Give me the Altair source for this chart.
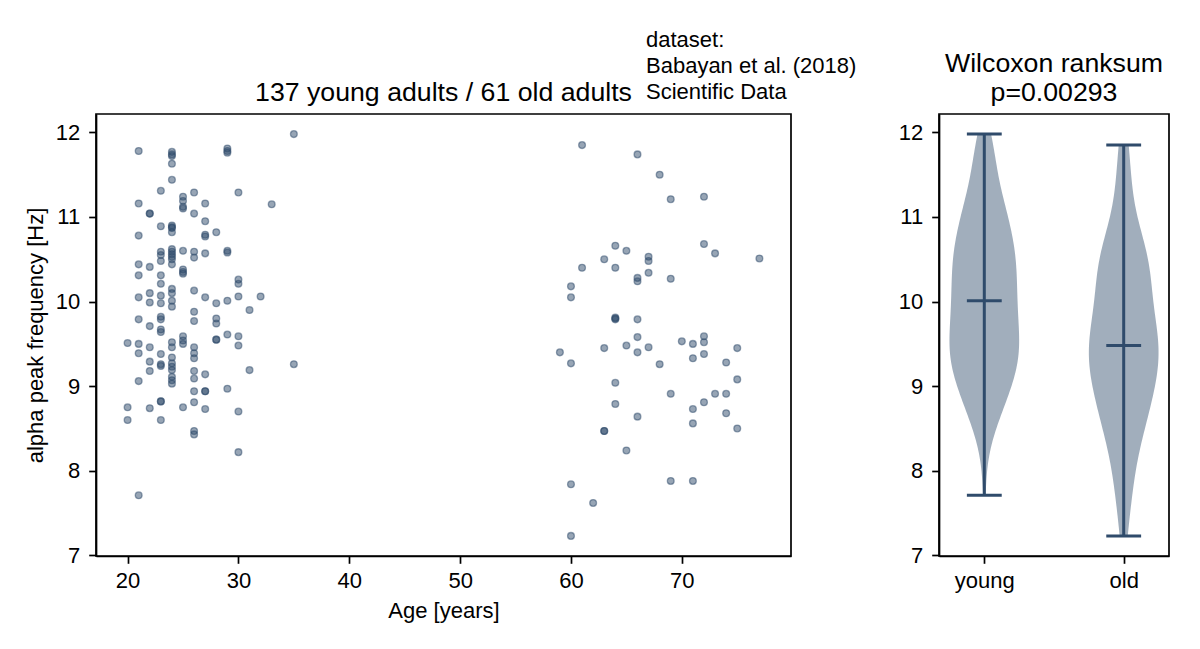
import altair as alt
import numpy as np
import pandas as pd

# ---- data ----
young_age = [35, 21, 24, 24, 24, 24, 24, 29, 29, 29, 23, 25, 25, 25, 25, 26, 27, 30, 33, 21,
             22, 22, 26, 27, 23, 24, 24, 24, 24, 27, 27, 28, 21, 23, 23, 24, 24, 24, 24, 24,
             25, 26, 26, 27, 29, 29, 21, 22, 23, 24, 25, 25, 25, 21, 23, 23, 30, 30, 24, 24,
             26, 21, 22, 23, 24, 24, 22, 23, 27, 28, 29, 30, 32, 31, 26, 21, 23, 23, 22, 26,
             28, 28, 23,
             23, 20, 21, 22, 21, 24, 24, 25, 25, 25, 26, 26, 26, 28, 28, 29, 30, 30, 23, 22,
             23, 23, 24, 24, 24, 24, 22, 24, 24, 24, 26, 26, 27, 31, 35, 21, 26, 27, 27, 29,
             23, 23, 20, 22, 25, 26, 27, 30, 20, 23, 26, 26, 30, 21]
young_freq = [11.98, 11.78, 11.77, 11.74, 11.72, 11.63, 11.44, 11.81, 11.78, 11.76, 11.31, 11.24,
              11.19, 11.12, 11.10, 11.29, 11.16, 11.29, 11.15, 11.16, 11.04, 11.04, 11.04, 10.95,
              10.89, 10.90, 10.87, 10.88, 10.82, 10.79, 10.77, 10.82, 10.78, 10.59, 10.55, 10.62,
              10.59, 10.56, 10.53, 10.50, 10.60, 10.59, 10.52, 10.57, 10.60, 10.58, 10.44, 10.41,
              10.48, 10.44, 10.38, 10.33, 10.35, 10.31, 10.31, 10.21, 10.26, 10.21, 10.15, 10.10,
              10.13, 10.05, 10.10, 10.07, 10.01, 9.94, 9.99, 9.98, 10.05, 9.98, 10.01, 10.06,
              10.06, 9.90, 9.88, 9.79, 9.82, 9.79, 9.71, 9.77, 9.80, 9.74, 9.67,
              9.64, 9.51, 9.50, 9.46, 9.39, 9.52, 9.46, 9.59, 9.54, 9.50, 9.46, 9.39, 9.33,
              9.55, 9.55, 9.61, 9.59, 9.48, 9.38, 9.29, 9.26, 9.24, 9.34, 9.27, 9.23, 9.19,
              9.18, 9.11, 9.07, 9.03, 9.18, 9.09, 9.14, 9.19, 9.26, 9.06, 8.94, 8.94, 8.94,
              8.97, 8.82, 8.82, 8.75, 8.74, 8.75, 8.81, 8.73, 8.70, 8.60, 8.60, 8.47, 8.43,
              8.22, 7.71]
old_age = [61, 66, 68, 69, 72, 72, 73, 77, 64, 65, 63, 61, 64, 67, 67, 67, 66, 66, 69, 60,
           60, 64, 64, 64, 66,
           59, 60, 63, 65, 66, 66, 67, 68, 70, 71, 72, 72, 72, 71, 75, 74, 75, 64, 69, 73,
           74, 72, 64, 71, 74, 66, 71, 75, 63, 63, 65, 69, 71, 60, 62, 60]
old_freq = [11.85, 11.74, 11.50, 11.21, 11.24, 10.68, 10.57, 10.51, 10.66, 10.60, 10.50, 10.40,
            10.40, 10.53, 10.48, 10.34, 10.28, 10.24, 10.27, 10.18, 10.05, 9.81, 9.79, 9.80,
            9.79,
            9.40, 9.27, 9.45, 9.48, 9.58, 9.40, 9.46, 9.26, 9.53, 9.50, 9.59, 9.52, 9.38,
            9.33, 9.45, 9.28, 9.08, 9.04, 8.91, 8.91, 8.91, 8.81, 8.79, 8.73, 8.68, 8.64,
            8.56, 8.50, 8.47, 8.47, 8.24, 7.88, 7.88, 7.84, 7.62, 7.23]

groups = ["young", "old"]
group_pos = [1, 2]
age_ticks = [20, 30, 40, 50, 60, 70]
freq_ticks = [7, 8, 9, 10, 11, 12]
title_left = "137 young adults / 61 old adults"
title_right = ["Wilcoxon ranksum", "p=0.00293"]
note_text = "dataset:\nBabayan et al. (2018)\nScientific Data"

COLOR = "#2f4b6b"
FONT = "Liberation Sans"
FS = 22
TFS = 26.7
LEFT_W, RIGHT_W, H = 695, 230, 442

df = pd.DataFrame({
    "age": young_age + old_age,
    "freq": young_freq + old_freq,
    "group": [groups[0]] * len(young_age) + [groups[1]] * len(old_age),
})
df["pos"] = df["group"].map(dict(zip(groups, group_pos)))


def lims(lo, hi, m=0.05):
    r = hi - lo
    return [lo - m * r, hi + m * r]


xdom = lims(float(df.age.min()), float(df.age.max()))
ydom = lims(float(df.freq.min()), float(df.freq.max()))
pdom = lims(group_pos[0] - 0.25, group_pos[-1] + 0.25)

yscale = alt.Scale(domain=ydom, nice=False, zero=False)
pscale = alt.Scale(domain=pdom, nice=False, zero=False)
label_expr = "[" + ",".join(f"'{g}'" for g in groups) + "][datum.value - 1]"


def Yf(field, title=None):
    return alt.Y(field, type="quantitative", scale=yscale,
                 axis=alt.Axis(values=freq_ticks, title=title))


def Xp(field):
    return alt.X(field, type="quantitative", scale=pscale,
                 axis=alt.Axis(values=group_pos, labelExpr=label_expr, title=None))


# ---- left: scatter ----
scatter = alt.Chart(df).mark_circle(
    size=46, fill=COLOR, fillOpacity=0.5, stroke=COLOR, strokeOpacity=0.5, strokeWidth=1.3
).encode(
    x=alt.X("age:Q", scale=alt.Scale(domain=xdom, nice=False, zero=False),
            axis=alt.Axis(values=age_ticks, title="Age [years]")),
    y=Yf("freq", "alpha peak frequency [Hz]"),
)

note = alt.Chart(pd.DataFrame({"t": [note_text]})).mark_text(
    align="left", baseline="alphabetic", lineBreak="\n", fontSize=FS, lineHeight=26,
    font=FONT, color="black", x=550, y=-67
).encode(text="t:N")

head = alt.Chart(pd.DataFrame({"t": [title_left]})).mark_text(
    align="center", baseline="bottom", fontSize=TFS, font=FONT, color="black",
    x=LEFT_W / 2, y=-7
).encode(text="t:N")

left = alt.layer(scatter, note, head).properties(width=LEFT_W, height=H)


# ---- right: violins ----
def violin(g):
    vals = df.loc[df.group == g, "freq"].to_numpy()
    bw = float(vals.std(ddof=1) * len(vals) ** -0.2)
    return alt.Chart(df).transform_filter(
        alt.datum.group == g
    ).transform_density(
        "freq", as_=["freq", "density"], groupby=["group", "pos"], bandwidth=bw, steps=200
    ).transform_joinaggregate(
        dmax="max(density)", groupby=["group"]
    ).transform_calculate(
        xl="datum.pos - 0.25 * datum.density / datum.dmax",
        xr="datum.pos + 0.25 * datum.density / datum.dmax",
    ).mark_area(orient="horizontal", color=COLOR, opacity=0.45).encode(
        y=Yf("freq"), x=Xp("xl"), x2="xr:Q"
    )


stats = alt.Chart(df).transform_aggregate(
    vmin="min(freq)", vmax="max(freq)", vmed="median(freq)", groupby=["group", "pos"]
).transform_calculate(cl="datum.pos - 0.125", cr="datum.pos + 0.125")

LW = 3
stem = stats.mark_rule(color=COLOR, strokeWidth=LW).encode(x=Xp("pos"), y=Yf("vmin"), y2="vmax:Q")
caps = [stats.mark_rule(color=COLOR, strokeWidth=LW).encode(x=Xp("cl"), x2="cr:Q", y=Yf(f))
        for f in ["vmin", "vmax", "vmed"]]

right = alt.layer(violin(groups[0]), violin(groups[1]), stem, *caps).properties(
    width=RIGHT_W, height=H, title=alt.Title(title_right, lineHeight=29)
)

chart = alt.hconcat(left, right, spacing=148, bounds="flush").properties(
    padding={"left": 15, "top": 20, "right": 5, "bottom": 5}
).configure(font=FONT).configure_view(
    stroke="black", strokeWidth=1.7
).configure_axis(
    labelFont=FONT, titleFont=FONT, labelFontSize=FS, titleFontSize=FS,
    labelColor="black", titleColor="black", titleFontWeight="normal",
    domainColor="black", domainWidth=1.7, tickColor="black", tickWidth=1.7,
    tickSize=7.3, labelPadding=9, titlePadding=8, grid=False
).configure_axisX(
    labelPadding=7, titlePadding=9
).configure_title(
    font=FONT, fontSize=TFS, fontWeight="normal", color="black", anchor="middle",
    baseline="bottom", offset=7
)

chart.save("out.html", embed_options={"renderer": "svg", "actions": False})
